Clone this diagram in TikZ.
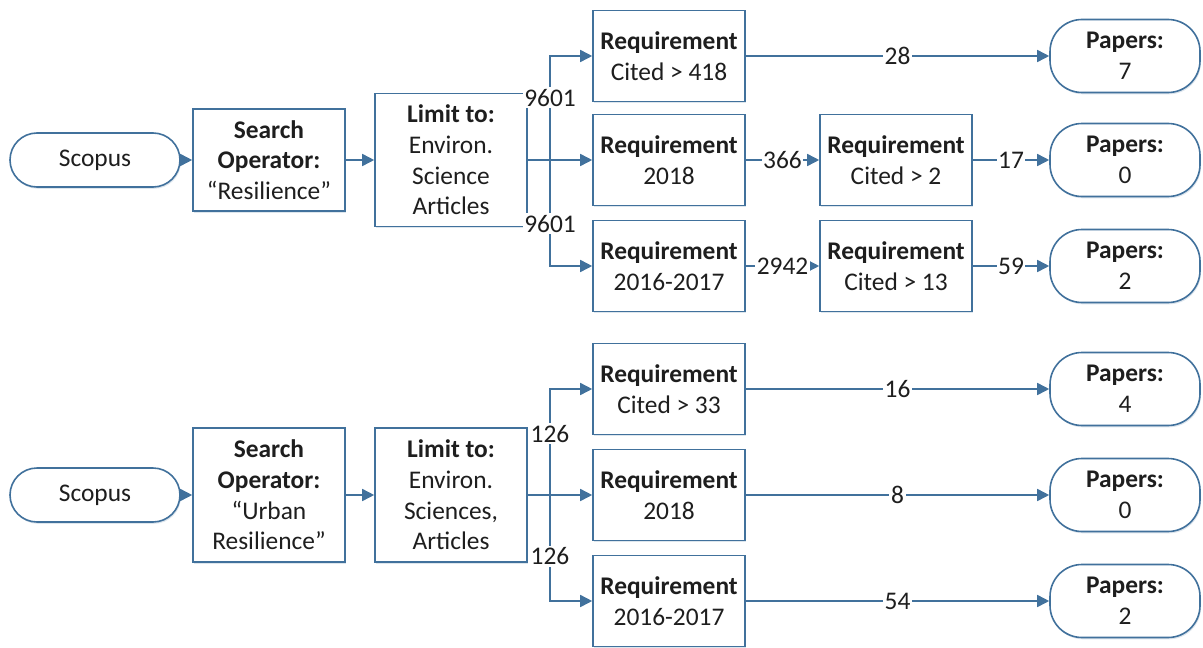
\documentclass[tikz,border=0pt]{standalone}
\usepackage{fontspec}
\setmainfont{Carlito}
\usetikzlibrary{arrows.meta,shadows}
\definecolor{edge}{HTML}{41719C}
\definecolor{ink}{HTML}{1E1E1E}
\definecolor{shade}{HTML}{9FB6CC}

\tikzset{
  every node/.style={text=ink, font=\fontsize{12.7}{15.3}\selectfont},
  boxbase/.style={draw=edge, line width=0.8pt, fill=white, align=center, inner sep=0pt,
    drop shadow={shadow xshift=0.5pt, shadow yshift=-0.9pt, fill=shade, opacity=0.35}},
  reqbox/.style={boxbase, minimum width=76pt, minimum height=45.5pt},
  tallbox/.style={boxbase, minimum width=76pt, minimum height=#1},
  scopusbox/.style={boxbase, rounded corners=13.5pt, minimum width=85pt, minimum height=27pt},
  paperbox/.style={boxbase, rounded corners=16pt, minimum width=75pt, minimum height=36.5pt},
  conn/.style={draw=edge, line width=0.8pt, -{Triangle[length=6pt,width=6pt]}},
  lbl/.style={fill=white, inner sep=0.8pt}
}

\begin{document}
\begin{tikzpicture}[x=0.5pt, y=-0.5pt]
  \useasboundingbox (0,0) rectangle (1203,647);

  % ---------- search for "Resilience" ----------
  \node[scopusbox] (s1) at (95,160) {Scopus};
  \node[tallbox=51pt] (q1) at (269,160) {\textbf{Search}\\\textbf{Operator:}\\“Resilience”};
  \node[tallbox=66.5pt] (l1) at (451,160) {\textbf{Limit to:}\\Environ.\\Science\\Articles};

  \node[reqbox] (r11) at (669,56) {\textbf{Requirement}\\Cited > 418};
  \node[reqbox] (r12) at (669,160) {\textbf{Requirement}\\2018};
  \node[reqbox] (r13) at (669,266) {\textbf{Requirement}\\2016-2017};
  \node[reqbox] (c12) at (896,160) {\textbf{Requirement}\\Cited > 2};
  \node[reqbox] (c13) at (896,266) {\textbf{Requirement}\\Cited > 13};

  \node[paperbox] (p11) at (1125,56) {\textbf{Papers:}\\7};
  \node[paperbox] (p12) at (1125,160) {\textbf{Papers:}\\0};
  \node[paperbox] (p13) at (1125,266) {\textbf{Papers:}\\2};

  \coordinate (j1) at (550,160);
  \draw[conn] (s1.east) -- (q1.west);
  \draw[conn] (q1.east) -- (l1.west);
  \draw[conn] (l1.east) -- (j1) |- node[lbl,pos=0.3] {9601} (r11.west);
  \draw[conn] (l1.east) -- (r12.west);
  \draw[conn] (l1.east) -- (j1) |- node[lbl,pos=0.3] {9601} (r13.west);

  \draw[conn] (r11.east) -- node[lbl] {28} (p11.west);
  \draw[conn] (r12.east) -- node[lbl] {366} (c12.west);
  \draw[conn] (c12.east) -- node[lbl] {17} (p12.west);
  \draw[conn] (r13.east) -- node[lbl] {2942} (c13.west);
  \draw[conn] (c13.east) -- node[lbl] {59} (p13.west);

  % ---------- search for "Urban Resilience" ----------
  \node[scopusbox] (s2) at (95,495) {Scopus};
  \node[tallbox=67pt] (q2) at (269,495) {\textbf{Search}\\\textbf{Operator:}\\“Urban\\Resilience”};
  \node[tallbox=67pt] (l2) at (451,495) {\textbf{Limit to:}\\Environ.\\Sciences,\\Articles};

  \node[reqbox] (r21) at (669,389) {\textbf{Requirement}\\Cited > 33};
  \node[reqbox] (r22) at (669,495) {\textbf{Requirement}\\2018};
  \node[reqbox] (r23) at (669,601) {\textbf{Requirement}\\2016-2017};

  \node[paperbox] (p21) at (1125,389) {\textbf{Papers:}\\4};
  \node[paperbox] (p22) at (1125,495) {\textbf{Papers:}\\0};
  \node[paperbox] (p23) at (1125,601) {\textbf{Papers:}\\2};

  \coordinate (j2) at (550,495);
  \draw[conn] (s2.east) -- (q2.west);
  \draw[conn] (q2.east) -- (l2.west);
  \draw[conn] (l2.east) -- (j2) |- node[lbl,pos=0.29] {126} (r21.west);
  \draw[conn] (l2.east) -- (r22.west);
  \draw[conn] (l2.east) -- (j2) |- node[lbl,pos=0.29] {126} (r23.west);

  \draw[conn] (r21.east) -- node[lbl] {16} (p21.west);
  \draw[conn] (r22.east) -- node[lbl] {8} (p22.west);
  \draw[conn] (r23.east) -- node[lbl] {54} (p23.west);
\end{tikzpicture}
\end{document}
